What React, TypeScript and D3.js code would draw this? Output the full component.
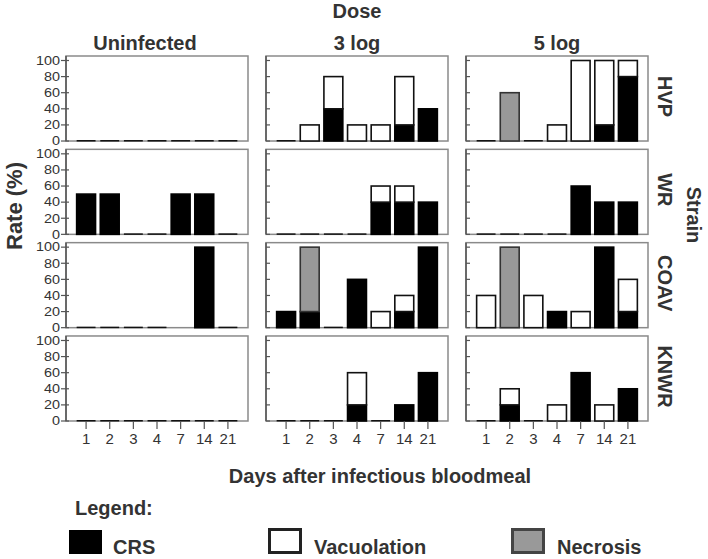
import React from "react";
import * as d3 from "d3";

const width = 708;
const height = 559;
const font = "'Liberation Sans', Arial, sans-serif";
const ink = "#333";

// categories
const days = ["1", "2", "3", "4", "7", "14", "21"];
const doses = ["Uninfected", "3 log", "5 log"];
const strains = ["HVP", "WR", "COAV", "KNWR"];
const layers = ["CRS", "Vacuolation", "Necrosis"];
const yTicks = [0, 20, 40, 60, 80, 100];

// rates (%), indexed [strain][dose][day]; null = no sample
const crs = [
  [[0, 0, 0, 0, 0, 0, 0], [0, 0, 40, 0, 0, 20, 40], [0, 0, 0, 0, 0, 20, 80]],
  [[50, 50, 0, 0, 50, 50, 0], [0, 0, 0, 0, 40, 40, 40], [0, 0, 0, 0, 60, 40, 40]],
  [[0, 0, 0, 0, null, 100, 0], [20, 20, 0, 60, 0, 20, 100], [0, 0, 0, 20, 0, 100, 20]],
  [[0, 0, 0, 0, 0, 0, 0], [0, 0, 0, 20, 0, 20, 60], [0, 20, 0, 0, 60, 0, 40]],
];
const vacuolation = [
  [[0, 0, 0, 0, 0, 0, 0], [0, 20, 40, 20, 20, 60, 0], [0, 0, 0, 20, 100, 80, 20]],
  [[0, 0, 0, 0, 0, 0, 0], [0, 0, 0, 0, 20, 20, 0], [0, 0, 0, 0, 0, 0, 0]],
  [[0, 0, 0, 0, 0, 0, 0], [0, 0, 0, 0, 20, 20, 0], [40, 0, 40, 0, 20, 0, 40]],
  [[0, 0, 0, 0, 0, 0, 0], [0, 0, 0, 40, 0, 0, 0], [0, 20, 0, 20, 0, 20, 0]],
];
const necrosis = [
  [[0, 0, 0, 0, 0, 0, 0], [0, 0, 0, 0, 0, 0, 0], [0, 60, 0, 0, 0, 0, 0]],
  [[0, 0, 0, 0, 0, 0, 0], [0, 0, 0, 0, 0, 0, 0], [0, 0, 0, 0, 0, 0, 0]],
  [[0, 0, 0, 0, 0, 0, 0], [0, 80, 0, 0, 0, 0, 0], [0, 100, 0, 0, 0, 0, 0]],
  [[0, 0, 0, 0, 0, 0, 0], [0, 0, 0, 0, 0, 0, 0], [0, 0, 0, 0, 0, 0, 0]],
];

const fills: Record<string, string> = { CRS: "#000", Vacuolation: "#fff", Necrosis: "#999" };
const strokes: Record<string, string> = { CRS: "#000", Vacuolation: "#111", Necrosis: "#333" };

// panel grid
const colScale = d3.scaleBand().domain(doses).range([66, 648]).paddingInner(0.09);
const rowScale = d3.scaleBand().domain(strains).range([56, 421]).paddingInner(0.089);
const pw = colScale.bandwidth();
const ph = rowScale.bandwidth();
const xScale = d3.scaleBand().domain(days).range([0, pw]).paddingInner(0.2).paddingOuter(0.45);
const yScale = d3.scaleLinear().domain([0, 100]).range([ph, 4.5]);

function Panel({ si, di }: { si: number; di: number }) {
  const table = days.map((d, i) => ({
    day: d,
    missing: crs[si][di][i] === null,
    CRS: crs[si][di][i] ?? 0,
    Vacuolation: vacuolation[si][di][i],
    Necrosis: necrosis[si][di][i],
  }));
  const series = d3.stack<any>().keys(layers)(table);
  const x0 = colScale(doses[di])!;
  const y0 = rowScale(strains[si])!;
  const bw = xScale.bandwidth();
  return (
    <g transform={`translate(${x0},${y0})`}>
      <rect x={0} y={0} width={pw} height={ph} fill="#fff" stroke="#8a8a8a" strokeWidth={1.5} />
      {table.map((t, i) => {
        const total = t.CRS + t.Vacuolation + t.Necrosis;
        if (t.missing || total > 0) return null;
        return (
          <rect key={"z" + i} x={xScale(t.day)} y={yScale(0) - 1} width={bw} height={1.5} fill="#111" />
        );
      })}
      {series.map((s) =>
        s.map((seg, i) => {
          if (seg[1] - seg[0] <= 0) return null;
          return (
            <rect
              key={s.key + i}
              x={xScale(table[i].day)}
              y={yScale(seg[1])}
              width={bw}
              height={yScale(seg[0]) - yScale(seg[1])}
              fill={fills[s.key]}
              stroke={strokes[s.key]}
              strokeWidth={1.6}
            />
          );
        })
      )}
      <line x1={0} x2={0} y1={0} y2={ph} stroke="#555" strokeWidth={1.5} />
      {yTicks.map((v) => (
        <g key={v} transform={`translate(0,${yScale(v)})`}>
          <line x1={di === 0 ? -5 : 0} x2={di === 0 ? 3 : 4} stroke="#555" strokeWidth={1.2} />
          {di === 0 && (
            <text
              transform="translate(-6,0) scale(1.2,1)"
              dy="0.36em"
              textAnchor="end"
              fontSize={12}
              fill={ink}
              fontFamily={font}
            >
              {v}
            </text>
          )}
        </g>
      ))}
      {si === strains.length - 1 &&
        days.map((d) => {
          const cx = xScale(d)! + bw / 2;
          return (
            <g key={d} transform={`translate(${cx},${ph})`}>
              <line y1={0} y2={8} stroke="#555" strokeWidth={1.2} />
              <text y={23} textAnchor="middle" fontSize={15} fill={ink} fontFamily={font}>
                {d}
              </text>
            </g>
          );
        })}
    </g>
  );
}

export default function App() {
  const bold = { fontFamily: font, fontWeight: 700, fill: ink } as const;
  return (
    <svg width={width} height={height} style={{ position: "absolute", left: 0, top: 0, background: "#fff" }}>
      <text x={357} y={18} textAnchor="middle" fontSize={20} {...bold}>
        Dose
      </text>
      {doses.map((d, i) => (
        <text
          key={d}
          x={colScale(d)! + pw / 2 - (i === 0 ? 12 : 0)}
          y={50}
          textAnchor="middle"
          fontSize={20}
          {...bold}
        >
          {d}
        </text>
      ))}
      {strains.map((s) => (
        <text
          key={s}
          transform={`translate(658,${rowScale(s)! + ph / 2 - 2}) rotate(90)`}
          textAnchor="middle"
          fontSize={20}
          {...bold}
        >
          {s}
        </text>
      ))}
      <text transform="translate(687,215) rotate(90)" textAnchor="middle" fontSize={20} {...bold}>
        Strain
      </text>
      <text transform="translate(22,206) rotate(-90)" textAnchor="middle" fontSize={22} {...bold}>
        Rate (%)
      </text>
      {strains.map((s, si) => doses.map((d, di) => <Panel key={s + d} si={si} di={di} />))}
      <text x={380} y={483} textAnchor="middle" fontSize={20} {...bold}>
        Days after infectious bloodmeal
      </text>
      <text x={75} y={515} fontSize={20} {...bold}>
        Legend:
      </text>
      <rect x={69} y={530} width={33} height={24} fill="#000" />
      <text x={113} y={554} fontSize={20} {...bold}>
        CRS
      </text>
      <rect x={269.5} y={529.5} width={31} height={23} fill="#fff" stroke="#222" strokeWidth={3} />
      <text x={314} y={554} fontSize={20} {...bold}>
        Vacuolation
      </text>
      <rect x={512.5} y={529.5} width={31} height={23} fill="#999" stroke="#444" strokeWidth={3} />
      <text x={557} y={554} fontSize={20} {...bold}>
        Necrosis
      </text>
    </svg>
  );
}
